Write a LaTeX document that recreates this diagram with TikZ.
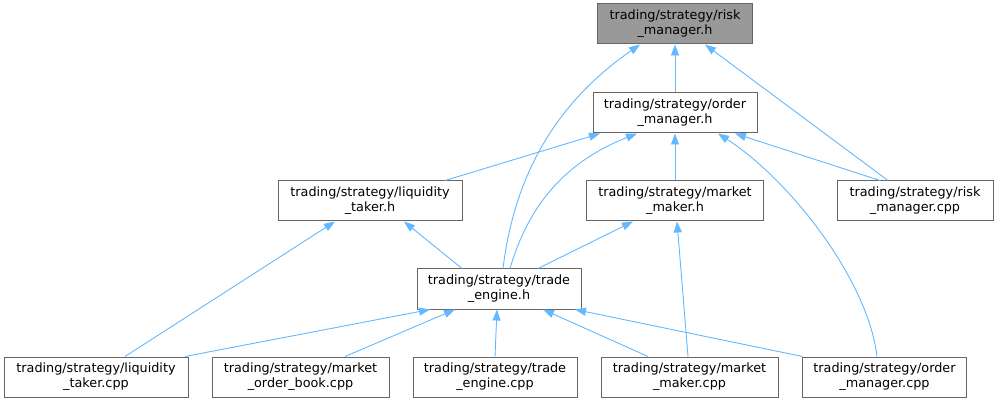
\documentclass[tikz,border=0pt]{standalone}
\usepackage{fontspec}
\setmainfont{DejaVu Sans}
\usetikzlibrary{arrows.meta,calc}
\definecolor{edgeblue}{HTML}{63B8FF}
\definecolor{boxline}{HTML}{666666}
\definecolor{rootfill}{HTML}{999999}
\tikzset{
  file/.style={draw=boxline, line width=1pt, fill=white, minimum height=40pt,
    inner sep=0pt, align=center, font=\fontsize{12.8}{15}\selectfont},
  rootfile/.style={file, fill=rootfill},
  dep/.style={draw=edgeblue, line width=0.9pt, -{Triangle[length=11pt,width=8pt]}},
}
\begin{document}
\begin{tikzpicture}[x=1pt,y=-1pt]
\useasboundingbox (0,0) rectangle (998,403);
% nodes
\node[rootfile, minimum width=155pt] (rmh) at (675,24) {trading/strategy/risk\\\_manager.h};
\node[file, minimum width=164pt] (omh) at (675,113) {trading/strategy/order\\\_manager.h};
\node[file, minimum width=184pt] (lth) at (370,201) {trading/strategy/liquidity\\\_taker.h};
\node[file, minimum width=177pt] (mmh) at (675,201) {trading/strategy/market\\\_maker.h};
\node[file, minimum width=156pt] (rmc) at (915,201) {trading/strategy/risk\\\_manager.cpp};
\node[file, minimum width=164pt] (teh) at (499,289) {trading/strategy/trade\\\_engine.h};
\node[file, minimum width=184pt] (ltc) at (96,377) {trading/strategy/liquidity\\\_taker.cpp};
\node[file, minimum width=177pt] (mobc) at (300.5,377) {trading/strategy/market\\\_order\_book.cpp};
\node[file, minimum width=164pt] (tec) at (495,377) {trading/strategy/trade\\\_engine.cpp};
\node[file, minimum width=177pt] (mmc) at (689.5,377) {trading/strategy/market\\\_maker.cpp};
\node[file, minimum width=164pt] (omc) at (884.5,377) {trading/strategy/order\\\_manager.cpp};
% edges into risk_manager.h
\draw[dep] (omh.north) -- (rmh.south);
\draw[dep] ([xshift=4pt]teh.north) .. controls (515,170) and (560,100) .. ([xshift=-35pt]rmh.south);
\draw[dep] ([xshift=-27pt]rmc.north) -- ([xshift=30pt]rmh.south);
% edges into order_manager.h
\draw[dep] ([xshift=75pt]lth.north) -- ([xshift=-75pt]omh.south);
\draw[dep] ([xshift=11pt]teh.north) .. controls (530,200) and (570,160) .. ([xshift=-38pt]omh.south);
\draw[dep] (mmh.north) -- (omh.south);
\draw[dep] ([xshift=-35pt]rmc.north) -- ([xshift=60pt]omh.south);
\draw[dep] ([xshift=-7.5pt]omc.north) .. controls (868,280) and (790,180) .. ([xshift=43pt]omh.south);
% edges into liquidity_taker.h
\draw[dep] ([xshift=-37pt]teh.north) -- ([xshift=34pt]lth.south);
\draw[dep] ([xshift=29pt]ltc.north) -- ([xshift=-35pt]lth.south);
% edges into market_maker.h
\draw[dep] ([xshift=39pt]teh.north) -- ([xshift=-42pt]mmh.south);
\draw[dep] ([xshift=-1.5pt]mmc.north) -- ([xshift=2pt]mmh.south);
% edges into trade_engine.h
\draw[dep] ([xshift=89pt]ltc.north) -- ([xshift=-69pt]teh.south);
\draw[dep] ([xshift=44.5pt]mobc.north) -- ([xshift=-44pt]teh.south);
\draw[dep] (tec.north) -- ([xshift=-2pt]teh.south);
\draw[dep] ([xshift=-41.5pt]mmc.north) -- ([xshift=44pt]teh.south);
\draw[dep] ([xshift=-82pt]omc.north) -- ([xshift=76pt]teh.south);
\end{tikzpicture}
\end{document}
